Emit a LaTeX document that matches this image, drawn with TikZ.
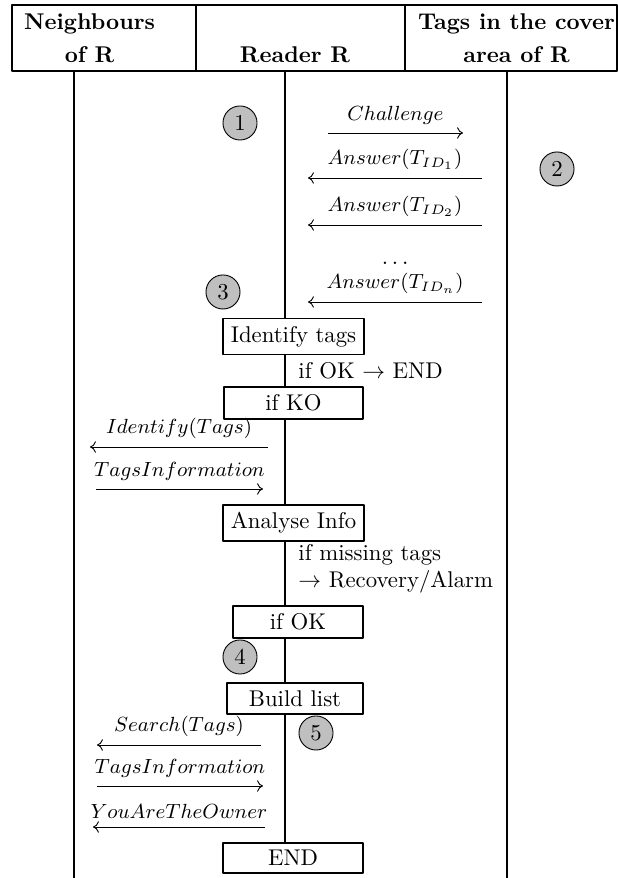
\documentclass[tikz,border=0pt]{standalone}
\usepackage{amsmath}
\usetikzlibrary{arrows.meta}
\begin{document}
\begin{tikzpicture}[>={To[width=5pt,length=2.6pt]},line join=bevel,
  cell/.style={draw,line width=0.8pt,minimum height=28.88bp,inner sep=0pt},
  hdtext/.style={font=\bfseries,align=center,inner sep=0pt},
  life/.style={line width=0.8pt},
  stepbox/.style={draw,line width=0.8pt,fill=white,minimum height=13.1bp},
  stage/.style={circle,draw,fill=gray!50,minimum size=14.9bp,inner sep=0pt},
  msg/.style={black,->},
  lbl/.style={midway,above,font=\small},
  note/.style={anchor=west,inner sep=0pt},
]
\useasboundingbox (0bp,0bp) rectangle (270.375bp,384.125bp);
%% header
\node (hd_nb) at (45.5bp,367.5bp) [cell,minimum width=80.5bp] {};
  \node (hd_rd) at (131.47bp,367.5bp) [cell,minimum width=91.44bp] {};
  \node (hd_tg) at (223.56bp,367.5bp) [cell,minimum width=92.75bp] {};
  \node (tx_nb) at (39.2bp,367.28bp) [hdtext] {Neighbours\\[2.5pt]of R};
  \node (tx_rd) at (129.06bp,360.06bp) [hdtext] {Reader R};
  \node (tx_tg) at (225.97bp,367.28bp) [hdtext] {Tags in the cover\\[2.5pt]area of R};
%% lifelines
\coordinate (nb_top) at (32.375bp,353.06bp);
  \coordinate (nb_bot) at (32.375bp,0bp);
  \coordinate (rd_top) at (124.69bp,353.06bp);
  \coordinate (rd_bot) at (124.69bp,15.31bp);
  \coordinate (tg_top) at (221.81bp,353.06bp);
  \coordinate (tg_bot) at (221.81bp,0bp);
  \draw [life] (nb_top) -- (nb_bot);
  \draw [life] (rd_top) -- (rd_bot);
  \draw [life] (tg_top) -- (tg_bot);
%% stages
\node (st_1) at (105.0bp,330.31bp) [stage] {1};
  \node (st_2) at (243.69bp,310.19bp) [stage] {2};
  \node (st_3) at (97.56bp,256.38bp) [stage] {3};
  \node (st_4) at (105.0bp,96.69bp) [stage] {4};
  \node (st_5) at (138.25bp,63.44bp) [stage] {5};
%% reader <-> tags
\coordinate (ch_a) at (143.5bp,325.94bp);
  \coordinate (ch_b) at (202.56bp,325.94bp);
  \draw [msg] (ch_a) -- (ch_b) node [lbl] {$Challenge$};
  \coordinate (an1_a) at (210.88bp,306.25bp);
  \coordinate (an1_b) at (134.75bp,306.25bp);
  \draw [msg] (an1_a) -- (an1_b) node [lbl] {$Answer(T_{ID_1})$};
  \coordinate (an2_a) at (210.88bp,285.69bp);
  \coordinate (an2_b) at (134.75bp,285.69bp);
  \draw [msg] (an2_a) -- (an2_b) node [lbl] {$Answer(T_{ID_2})$};
  \node (dots) at (173.69bp,269.06bp) {$\dots$};
  \coordinate (ann_a) at (210.88bp,252.0bp);
  \coordinate (ann_b) at (134.75bp,252.0bp);
  \draw [msg] (ann_a) -- (ann_b) node [lbl] {$Answer(T_{ID_n})$};
%% reader steps
\node (bx_idtags) at (128.41bp,236.91bp) [stepbox,minimum width=60.81bp] {Identify tags};
  \node (nt_ok) at (130.38bp,221.81bp) [note] {if OK $\rightarrow$ END};
  \node (bx_ifko) at (128.41bp,207.81bp) [stepbox,minimum width=60.81bp] {if KO};
  \node (bx_analyse) at (128.41bp,155.31bp) [stepbox,minimum width=60.81bp] {Analyse Info};
  \node (nt_miss) at (130.38bp,135.4bp) [note,align=left] {if missing tags\\$\rightarrow$ Recovery/Alarm};
  \node (bx_ifok) at (130.38bp,112.0bp) [stepbox,minimum width=56.88bp] {if OK};
  \node (bx_build) at (129.06bp,78.53bp) [stepbox,minimum width=59.5bp] {Build list};
  \node (bx_end) at (128.19bp,8.75bp) [stepbox,minimum width=61.25bp] {END};
%% reader <-> neighbours
\coordinate (id_a) at (117.25bp,188.56bp);
  \coordinate (id_b) at (39.38bp,188.56bp);
  \draw [msg] (id_a) -- (id_b) node [lbl] {$Identify(Tags)$};
  \coordinate (ti1_a) at (42.0bp,170.19bp);
  \coordinate (ti1_b) at (115.06bp,170.19bp);
  \draw [msg] (ti1_a) -- (ti1_b) node [lbl] {$TagsInformation$};
  \coordinate (se_a) at (114.19bp,58.19bp);
  \coordinate (se_b) at (42.44bp,58.19bp);
  \draw [msg] (se_a) -- (se_b) node [lbl] {$Search(Tags)$};
  \coordinate (ti2_a) at (42.44bp,40.25bp);
  \coordinate (ti2_b) at (115.06bp,40.25bp);
  \draw [msg] (ti2_a) -- (ti2_b) node [lbl] {$TagsInformation$};
  \coordinate (ow_a) at (115.94bp,22.31bp);
  \coordinate (ow_b) at (40.69bp,22.31bp);
  \draw [msg] (ow_a) -- (ow_b) node [lbl] {$YouAreTheOwner$};
%
\end{tikzpicture}
\end{document}
